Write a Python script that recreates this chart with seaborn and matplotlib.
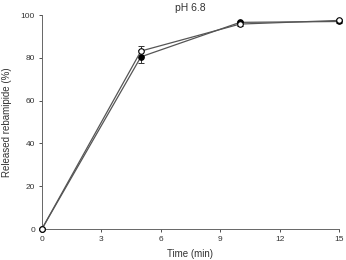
import pandas as pd
import matplotlib
matplotlib.use("Agg")
import matplotlib.pyplot as plt
import seaborn as sns

time_min = [0, 5, 10, 15]
filled_release = [0, 80.5, 96.6, 97.0]
filled_err = [0, 3.0, 0.8, 0.6]
open_release = [0, 83.2, 95.8, 97.5]
open_err = [0, 2.2, 0.8, 0.5]

df = pd.DataFrame({
    "time": time_min * 2,
    "release": filled_release + open_release,
    "group": ["filled"] * 4 + ["open"] * 4,
})

sns.set_style("ticks")
plt.rcParams['font.family'] = ['Liberation Sans', 'DejaVu Sans']

fig = plt.figure(figsize=(3.46, 2.6), dpi=100)
ax = fig.add_axes([0.121, 0.119, 0.859, 0.823])

styles = {"filled": "black", "open": "white"}
errs = {"filled": filled_err, "open": open_err}
for grp, face in styles.items():
    sub = df[df["group"] == grp]
    ax.errorbar(sub["time"], sub["release"], yerr=errs[grp], fmt="none",
                ecolor="#333333", elinewidth=0.7, capsize=2, capthick=0.7, zorder=2)
    sns.lineplot(data=sub, x="time", y="release", ax=ax, color="#555555",
                 linewidth=0.9, marker="o", markersize=4,
                 markerfacecolor=face, markeredgecolor="black",
                 markeredgewidth=0.8, zorder=3)

ax.set_xlim(0, 15)
ax.set_ylim(0, 100)
ax.set_xticks([0, 3, 6, 9, 12, 15])
ax.set_yticks([0, 20, 40, 60, 80, 100])
ax.tick_params(labelsize=6, length=2.5, width=0.6, colors="#333333", pad=2.5)
for s in ["left", "bottom"]:
    ax.spines[s].set_linewidth(0.7)
    ax.spines[s].set_color("#666666")
sns.despine(ax=ax)
ax.set_xlabel("Time (min)", fontsize=7, color="#333333", labelpad=4)
ax.set_ylabel("Released rebamipide (%)", fontsize=7, color="#333333", labelpad=6)
ax.set_title("pH 6.8", fontsize=7.5, color="#333333", pad=3)
for c in ax.get_children():
    c.set_clip_on(False)

fig.savefig("out.png", dpi=100)
